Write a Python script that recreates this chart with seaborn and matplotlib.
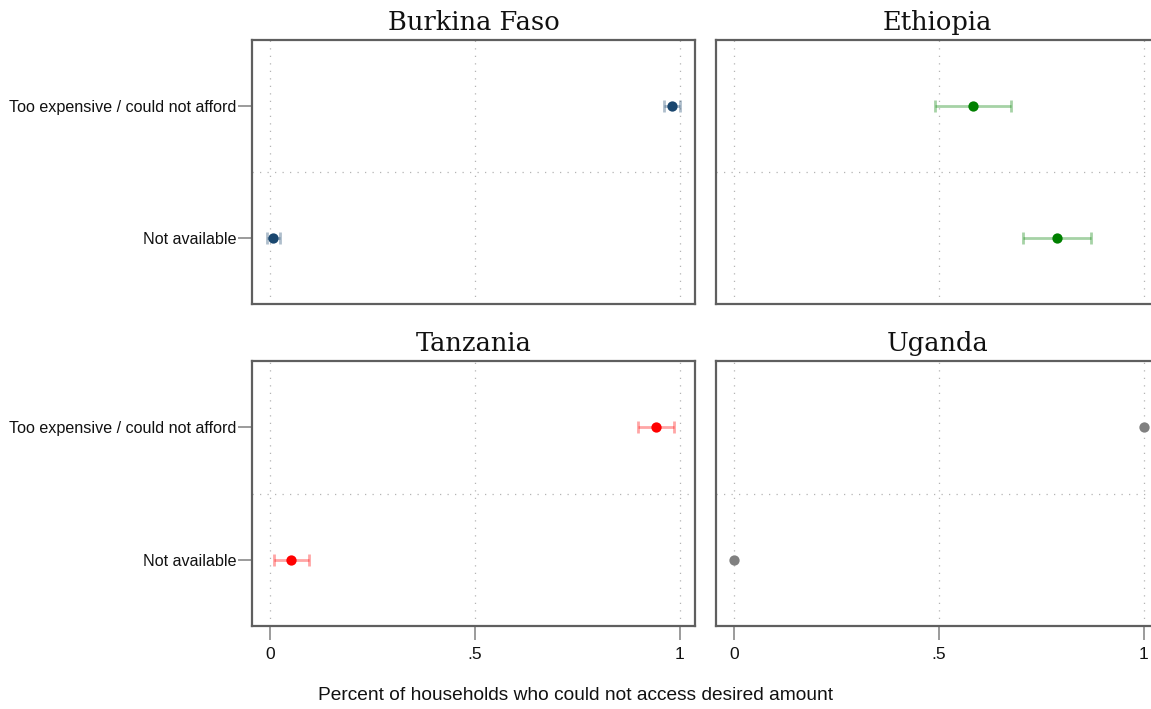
import numpy as np
import pandas as pd
import matplotlib
matplotlib.use("Agg")
import matplotlib.pyplot as plt
import seaborn as sns

# Share of households that could not access the desired amount, by reason
countries = ["Burkina Faso", "Ethiopia", "Tanzania", "Uganda"]
reasons = ["Too expensive / could not afford", "Not available"]

estimate = {
    "Burkina Faso": [0.980, 0.008],
    "Ethiopia":     [0.584, 0.788],
    "Tanzania":     [0.941, 0.052],
    "Uganda":       [1.000, 0.000],
}
ci_low = {
    "Burkina Faso": [0.961, -0.008],
    "Ethiopia":     [0.490, 0.704],
    "Tanzania":     [0.898, 0.010],
    "Uganda":       [None, None],
}
ci_high = {
    "Burkina Faso": [1.000, 0.024],
    "Ethiopia":     [0.676, 0.872],
    "Tanzania":     [0.985, 0.094],
    "Uganda":       [None, None],
}
colors = {
    "Burkina Faso": "#1a476f",
    "Ethiopia": "#008000",
    "Tanzania": "#ff0000",
    "Uganda": "#808080",
}
x_ticks = [0, 0.5, 1]
x_ticklabels = ["0", ".5", "1"]
x_label = "Percent of households who could not access desired amount"

rows = []
for c in countries:
    for i, r in enumerate(reasons):
        rows.append({"country": c, "reason": r, "pos": i,
                     "est": estimate[c][i],
                     "lo": ci_low[c][i], "hi": ci_high[c][i]})
df = pd.DataFrame(rows)

sns.set_theme(style="white")
plt.rcParams["font.family"] = ["Liberation Sans", "DejaVu Sans"]

W, H = 1151, 709
fig = plt.figure(figsize=(W / 100, H / 100), dpi=100)

col_x = [252, 716]
row_y = [(40, 304), (361, 626)]
panel_w = 443

frame_col = "#5f5f5f"
grid_col = "#b4b4b4"

for k, c in enumerate(countries):
    r_i, c_i = divmod(k, 2)
    x0 = col_x[c_i]
    top, bot = row_y[r_i]
    ax = fig.add_axes([x0 / W, 1 - bot / H, panel_w / W, (bot - top) / H])
    sub = df[df["country"] == c]
    col = colors[c]

    # reference grid
    for xv in x_ticks:
        ax.axvline(xv, color=grid_col, lw=0.9, ls=(0, (1, 5)), zorder=0)
    ax.axhline(0.5, color=grid_col, lw=0.9, ls=(0, (1, 5)), zorder=0)

    # confidence intervals
    ci = sub.dropna(subset=["lo", "hi"])
    if len(ci):
        ax.errorbar(x=ci["est"], y=ci["pos"],
                    xerr=[ci["est"] - ci["lo"], ci["hi"] - ci["est"]],
                    fmt="none", ecolor=col, alpha=0.35, elinewidth=2.0,
                    capsize=4.5, capthick=2.0, zorder=2)

    sns.scatterplot(data=sub, x="est", y="pos", ax=ax, color=col, s=55,
                    edgecolor=col, linewidth=0, zorder=3, legend=False)

    ax.set_xlim(-0.044, 1.037)
    ax.set_ylim(1.5, -0.5)
    ax.set_xlabel("")
    ax.set_ylabel("")

    for sp in ax.spines.values():
        sp.set_visible(True)
        sp.set_color(frame_col)
        sp.set_linewidth(1.6)

    ax.set_title(c, family=["DejaVu Serif"], fontsize=18.5, color="#111111",
                 pad=7)

    if c_i == 0:
        ax.set_yticks([0, 1])
        ax.set_yticklabels(reasons, fontsize=11.6, color="#111111")
        ax.tick_params(axis="y", left=True, length=10, width=1.2,
                       color="#8a8a8a", pad=1.5)
    else:
        ax.set_yticks([])

    if r_i == 1:
        ax.set_xticks(x_ticks)
        ax.set_xticklabels(x_ticklabels, fontsize=12.5, color="#111111")
        ax.tick_params(axis="x", bottom=True, length=10, width=1.2,
                       color="#8a8a8a", pad=5)
    else:
        ax.set_xticks([])

fig.text(575 / W, 1 - 696 / H, x_label, ha="center", va="center",
         fontsize=13.8, color="#111111")

fig.savefig("out.png", dpi=100, facecolor="white")
